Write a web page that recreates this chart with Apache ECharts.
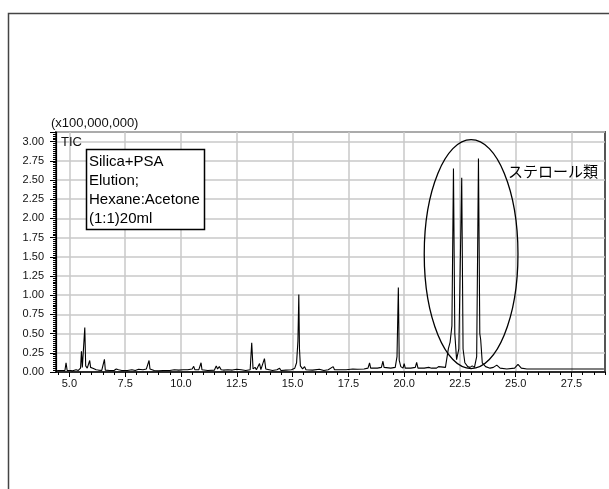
<!DOCTYPE html>
<html>
<head>
<meta charset="utf-8">
<script src="https://cdn.jsdelivr.net/npm/echarts@6/dist/echarts.min.js"></script>
<style>
  html, body { margin: 0; padding: 0; background: #fff; }
  #chart { width: 609px; height: 489px; }
</style>
</head>
<body>
<div id="chart"></div>
<script>
// Total ion chromatogram, retention time in minutes
const retentionMin = [
  4.45, 4.80, 4.85, 4.90, 5.05, 5.15, 5.30, 5.40, 5.50, 5.54, 5.58, 5.63, 5.69, 5.73, 5.80, 5.86, 5.91, 5.95,
  6.05, 6.20, 6.30, 6.45, 6.53, 6.57, 6.61, 6.80, 7.00, 7.10, 7.20, 7.35, 7.60, 7.80, 7.95, 8.10, 8.30, 8.45,
  8.53, 8.57, 8.61, 8.80, 9.00, 9.20, 9.50, 9.70, 9.90, 10.10, 10.30, 10.50, 10.57, 10.62, 10.80, 10.86, 10.90,
  10.94, 11.20, 11.50, 11.58, 11.64, 11.72, 11.80, 11.90, 12.10, 12.30, 12.50, 12.70, 12.90, 13.10, 13.17, 13.23,
  13.32, 13.38, 13.52, 13.58, 13.74, 13.80, 13.95, 14.10, 14.30, 14.42, 14.48, 14.70, 14.95, 15.10, 15.18, 15.24,
  15.28, 15.31, 15.35, 15.45, 15.54, 15.60, 15.90, 16.20, 16.40, 16.60, 16.82, 16.88, 17.10, 17.40, 17.70, 17.90,
  18.20, 18.38, 18.45, 18.50, 18.80, 18.98, 19.05, 19.10, 19.40, 19.60, 19.68, 19.74, 19.78, 19.85, 19.95, 20.00,
  20.05, 20.30, 20.50, 20.56, 20.62, 20.90, 21.10, 21.17, 21.23, 21.45, 21.54, 21.60, 21.85, 21.98, 22.06, 22.14,
  22.21, 22.27, 22.35, 22.45, 22.58, 22.64, 22.72, 22.85, 22.95, 23.05, 23.15, 23.25, 23.33, 23.39, 23.43, 23.50,
  23.65, 23.85, 24.00, 24.15, 24.30, 24.60, 24.95, 25.10, 25.25, 25.50, 26.00, 26.50, 27.00, 27.50, 28.00, 28.50,
  28.95
];
// Intensity in units of 100,000,000 counts
const ticE8 = [
  0.02, 0.02, 0.12, 0.02, 0.02, 0.015, 0.03, 0.02, 0.05, 0.27, 0.06, 0.05, 0.58, 0.08, 0.05, 0.06, 0.15, 0.06,
  0.05, 0.03, 0.025, 0.02, 0.03, 0.165, 0.025, 0.02, 0.02, 0.04, 0.03, 0.02, 0.02, 0.03, 0.02, 0.035, 0.03, 0.04,
  0.05, 0.15, 0.04, 0.02, 0.015, 0.02, 0.02, 0.03, 0.025, 0.03, 0.03, 0.04, 0.074, 0.03, 0.03, 0.04, 0.12,
  0.03, 0.02, 0.025, 0.08, 0.04, 0.07, 0.03, 0.025, 0.03, 0.025, 0.035, 0.03, 0.02, 0.03, 0.38, 0.04,
  0.06, 0.03, 0.11, 0.03, 0.175, 0.04, 0.03, 0.02, 0.03, 0.05, 0.02, 0.025, 0.03, 0.05, 0.12, 0.40,
  1.01, 0.30, 0.08, 0.04, 0.07, 0.03, 0.025, 0.035, 0.02, 0.03, 0.07, 0.03, 0.03, 0.03, 0.04, 0.035,
  0.04, 0.05, 0.12, 0.05, 0.05, 0.06, 0.14, 0.06, 0.05, 0.06, 0.20, 1.10, 0.15, 0.07, 0.05, 0.11,
  0.05, 0.05, 0.06, 0.125, 0.05, 0.05, 0.06, 0.08, 0.05, 0.05, 0.07, 0.05, 0.06, 0.30, 0.39, 0.60,
  2.65, 0.50, 0.16, 0.30, 2.53, 0.30, 0.12, 0.07, 0.06, 0.08, 0.06, 0.20, 2.78, 0.50, 0.42, 0.12,
  0.07, 0.05, 0.06, 0.09, 0.05, 0.04, 0.05, 0.10, 0.05, 0.04, 0.04, 0.04, 0.04, 0.04, 0.04, 0.04,
  0.04
];

// Axis layout
const X_MIN = 4.4, X_MAX = 29.0;
const Y_MIN = 0, Y_MAX = 3.125;
const xTickValues = [5.0, 7.5, 10.0, 12.5, 15.0, 17.5, 20.0, 22.5, 25.0, 27.5];
const yTickValues = [0, 0.25, 0.5, 0.75, 1.0, 1.25, 1.5, 1.75, 2.0, 2.25, 2.5, 2.75, 3.0];

// Annotation texts
const yUnitText = '(x100,000,000)';
const traceName = 'TIC';
const conditionLines = ['Silica+PSA', 'Elution;', 'Hexane:Acetone', '(1:1)20ml'];
const groupLabel = 'ステロール類';
// Ellipse around the sterol group, in data units: centre time/intensity and half-extents
const groupCenter = [23.0, 1.535];
const groupHalf = [2.1, 1.49];

const xMinorValues = [];
for (let v = 4.5; v <= X_MAX; v += 0.5) xMinorValues.push(+v.toFixed(2));

const FONT = '"Liberation Sans", Arial, sans-serif';
const chart = echarts.init(document.getElementById('chart'), null, { renderer: 'canvas' });

const option = {
  animation: false,
  backgroundColor: '#fff',
  grid: {
    left: 56, top: 132, right: 4, bottom: 117,
    show: true, borderColor: '#555', borderWidth: 2, backgroundColor: 'transparent'
  },
  xAxis: [{
    type: 'value', min: X_MIN, max: X_MAX,
    axisLine: { show: true, onZero: false, lineStyle: { color: '#000', width: 1.5 } },
    axisTick: { show: true, inside: false, length: 5, customValues: xTickValues, lineStyle: { color: '#000', width: 1 } },
    axisLabel: { customValues: xTickValues, formatter: v => v.toFixed(1), color: '#111', fontSize: 11, fontFamily: FONT, margin: 6 },
    splitLine: { show: true, lineStyle: { color: '#c8c8c8', width: 1.5 } }
  }, {
    type: 'value', min: X_MIN, max: X_MAX, position: 'bottom',
    axisLine: { show: false },
    axisTick: { show: true, inside: false, length: 3, customValues: xMinorValues, lineStyle: { color: '#000', width: 1 } },
    axisLabel: { show: false },
    splitLine: { show: false }
  }],
  yAxis: {
    type: 'value', min: Y_MIN, max: Y_MAX, interval: 0.25,
    axisLine: { show: true, onZero: false, lineStyle: { color: '#000', width: 1.2 } },
    axisTick: { show: true, inside: false, length: 6, lineStyle: { color: '#000', width: 1 } },
    minorTick: { show: true, splitNumber: 10, length: 3, lineStyle: { color: '#000', width: 1 } },
    axisLabel: {
      showMaxLabel: false,
      formatter: v => (yTickValues.some(t => Math.abs(t - v) < 1e-6) ? v.toFixed(2) : ''),
      color: '#111', fontSize: 11, fontFamily: FONT, margin: 12
    },
    splitLine: { show: true, lineStyle: { color: '#c8c8c8', width: 1.5 } }
  },
  series: [{
    type: 'line',
    xAxisIndex: 0,
    data: retentionMin.map((t, i) => [t, ticE8[i]]),
    showSymbol: false,
    lineStyle: { color: '#000', width: 1.1 },
    z: 3
  }]
};
chart.setOption(option);

// Annotations placed from data coordinates
const c = chart.convertToPixel({ gridIndex: 0 }, groupCenter);
const edge = chart.convertToPixel({ gridIndex: 0 }, [groupCenter[0] + groupHalf[0], groupCenter[1] - groupHalf[1]]);

chart.setOption({
  graphic: [
    { type: 'rect', shape: { x: 8.5, y: 13.5, width: 700, height: 600 }, style: { fill: 'none', stroke: '#444', lineWidth: 1.5 }, silent: true, z: 0 },
    { type: 'text', x: 51, y: 123, style: { text: yUnitText, font: '13px ' + FONT, fill: '#111', textVerticalAlign: 'middle' }, z: 10 },
    { type: 'text', x: 61, y: 142, style: { text: traceName, font: '13px ' + FONT, fill: '#111', textVerticalAlign: 'middle' }, z: 10 },
    { type: 'rect', shape: { x: 86.5, y: 149.5, width: 118, height: 80 }, style: { fill: '#fff', stroke: '#000', lineWidth: 1.5 }, z: 10 },
    { type: 'text', x: 89, y: 152, style: { text: conditionLines.join('\n'), font: '15px ' + FONT, lineHeight: 19, fill: '#000' }, z: 11 },
    { type: 'text', x: 508, y: 171, style: { text: groupLabel, font: '15px "Noto Sans CJK JP", sans-serif', fill: '#000', textVerticalAlign: 'middle' }, z: 10 },
    { type: 'ellipse', shape: { cx: c[0], cy: c[1], rx: edge[0] - c[0], ry: edge[1] - c[1] }, style: { fill: 'none', stroke: '#000', lineWidth: 1.3 }, z: 10 }
  ]
});
</script>
</body>
</html>
